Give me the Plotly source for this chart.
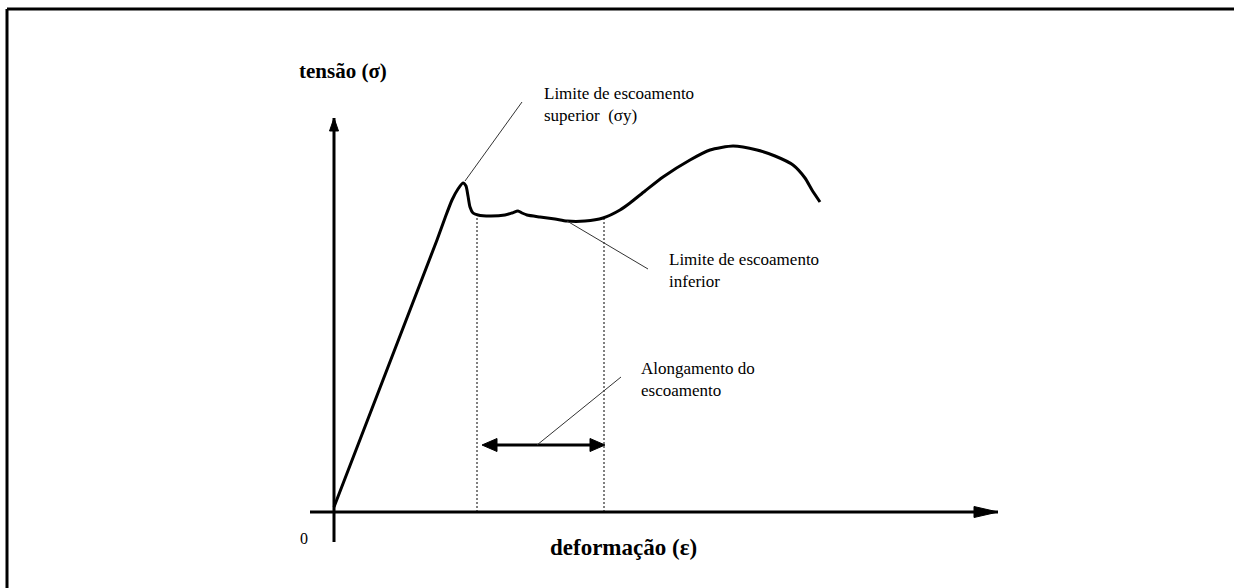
import plotly.graph_objects as go

# ── Data (strain / stress in drawing units, origin at the axes crossing) ─────
strain = [0, 103, 111, 118, 124, 129, 132, 134, 136, 139, 144, 156, 171, 178,
          184, 188, 193, 206, 221, 233, 251, 269, 286, 296, 311, 329, 356, 376,
          399, 423, 441, 459, 471, 478, 486]
stress = [5, 272, 294, 312, 323, 329, 326, 316, 305, 299, 297, 296, 297, 299,
          301, 299, 297, 295, 293, 291, 291, 294, 302, 309, 321, 335, 352, 362,
          366, 362, 356, 347, 334, 322, 310]

x_axis_span = [-24, 664]      # horizontal axis (deformação)
y_axis_span = [-30, 394]      # vertical axis (tensão)

upper_yield = (129, 329)      # limite superior
lower_yield = (233, 291)      # limite inferior
yield_start = (143, 296)      # start of yield plateau
yield_end = (270, 294)        # end of yield plateau
elong_y = 67                  # level of the "alongamento" arrow

labels = {
    "sigma": "tensão (σ)",
    "eps": "deformação (ε)",
    "zero": "0",
    "upper": "Limite de escoamento<br>superior\u00a0 (σy)",
    "lower": "Limite de escoamento<br>inferior",
    "elong": "Alongamento do<br>escoamento",
}

SERIF = "Liberation Serif, Times New Roman, serif"
INK = "black"


def head(tip, direction, length, width):
    """Triangle arrowhead polygon (data units == px here)."""
    dx, dy = direction
    bx, by = tip[0] - dx * length, tip[1] - dy * length
    px, py = -dy * width / 2, dx * width / 2
    return [tip[0], bx + px, bx - px, tip[0]], [tip[1], by + py, by - py, tip[1]]


fig = go.Figure()

# axes
fig.add_trace(go.Scatter(x=x_axis_span, y=[0, 0], mode="lines",
                         line=dict(color=INK, width=3)))
fig.add_trace(go.Scatter(x=[0, 0], y=y_axis_span, mode="lines",
                         line=dict(color=INK, width=3)))
for hx, hy in (head((x_axis_span[1], 0), (1, 0), 24, 11),
               head((0, y_axis_span[1]), (0, 1), 13, 9)):
    fig.add_trace(go.Scatter(x=hx, y=hy, mode="lines", fill="toself",
                             fillcolor=INK, line=dict(color=INK, width=1)))

# stress-strain curve
fig.add_trace(go.Scatter(x=strain, y=stress, mode="lines",
                         line=dict(color=INK, width=3, shape="spline", smoothing=0.6)))

# dotted verticals of the yield plateau
for px, py in (yield_start, yield_end):
    fig.add_trace(go.Scatter(x=[px, px], y=[0, py], mode="lines",
                             line=dict(color=INK, width=1, dash="2px,2px")))

# double arrow (alongamento)
a0, a1 = yield_start[0] + 5, yield_end[0] + 1
fig.add_trace(go.Scatter(x=[a0 + 10, a1 - 10], y=[elong_y, elong_y], mode="lines",
                         line=dict(color=INK, width=3)))
for hx, hy in (head((a0, elong_y), (-1, 0), 15, 13),
               head((a1, elong_y), (1, 0), 15, 13)):
    fig.add_trace(go.Scatter(x=hx, y=hy, mode="lines", fill="toself",
                             fillcolor=INK, line=dict(color=INK, width=1)))

# leader lines
leaders = [
    ([upper_yield[0] + 2, 188], [upper_yield[1] + 2, 410]),
    ([lower_yield[0], 314], [lower_yield[1], 243]),
    ([203, 287], [elong_y, 135]),
]
for lx, ly in leaders:
    fig.add_trace(go.Scatter(x=lx, y=ly, mode="lines",
                             line=dict(color="#333333", width=1)))


def note(x, y, text, size, bold=False, anchor="left"):
    fig.add_annotation(x=x, y=y, text=f"<b>{text}</b>" if bold else text,
                       showarrow=False, xanchor=anchor, yanchor="middle",
                       align="left", font=dict(family=SERIF, size=size, color=INK))


note(-37, 441, labels["sigma"], 21, bold=True)
note(289, -35, labels["eps"], 23, bold=True, anchor="center")
note(-36, -26, labels["zero"], 16)
note(208, 408, labels["upper"], 17)
note(333, 242, labels["lower"], 17)
note(305, 133, labels["elong"], 17)

# frame (left and top border only, the rest is cut off)
fig.add_shape(type="line", xref="paper", yref="paper",
              x0=7 / 1234, x1=7 / 1234, y0=-0.01, y1=1 - 9 / 588,
              line=dict(color=INK, width=3))
fig.add_shape(type="line", xref="paper", yref="paper",
              x0=7 / 1234, x1=1.01, y0=1 - 9 / 588, y1=1 - 9 / 588,
              line=dict(color=INK, width=3))

fig.update_layout(
    width=1234, height=588,
    margin=dict(l=0, r=0, t=0, b=0),
    showlegend=False,
    plot_bgcolor="white", paper_bgcolor="white",
    xaxis=dict(range=[-334, 900], visible=False, fixedrange=True),
    yaxis=dict(range=[-76, 512], visible=False, fixedrange=True),
)

fig.write_html("out.html", config={"displayModeBar": False},
               post_script="document.body.style.margin = '0';")
